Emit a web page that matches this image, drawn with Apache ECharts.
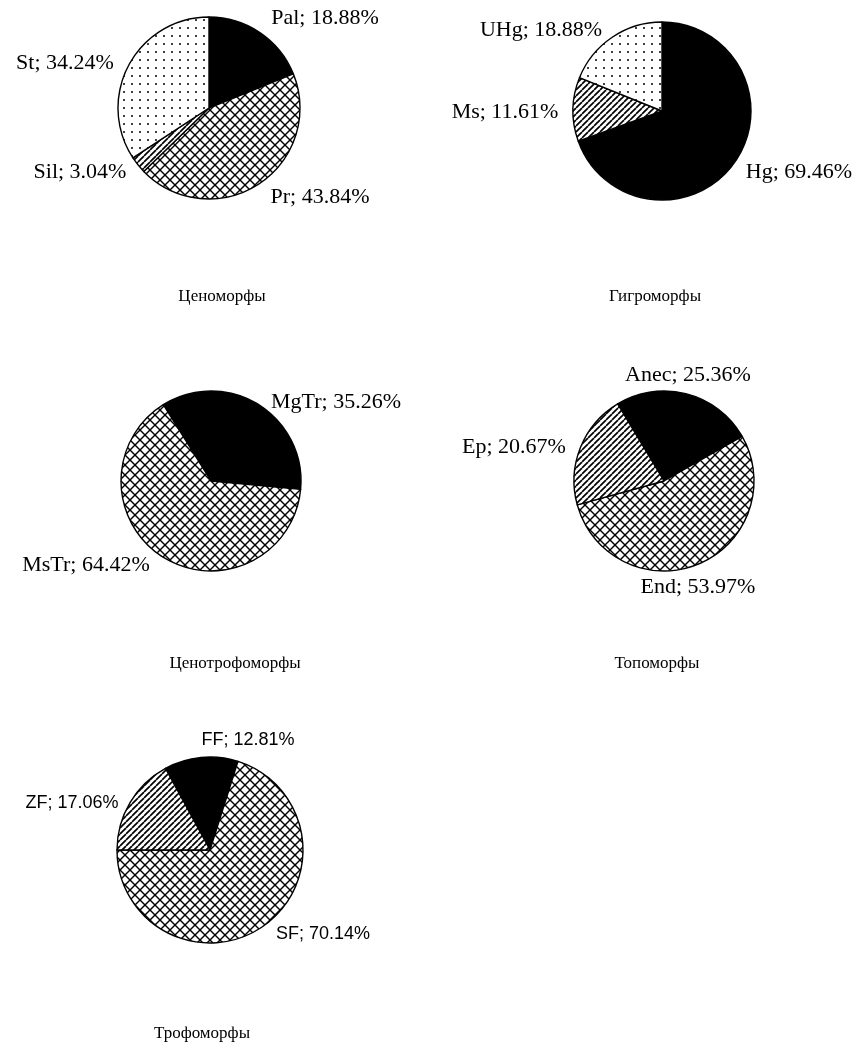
<!DOCTYPE html>
<html><head><meta charset="utf-8">
<script src="https://cdn.jsdelivr.net/npm/echarts@6/dist/echarts.min.js"></script>
<style>html,body{margin:0;padding:0;background:#fff}#c{width:860px;height:1045px}</style>
</head><body><div id="c"></div>
<script>
// ---- data ----
const cenoCats = ['Pal', 'Pr', 'Sil', 'St'];
const cenoVals = [18.88, 43.84, 3.04, 34.24];
const gigroCats = ['Hg', 'Ms', 'UHg'];
const gigroVals = [69.46, 11.61, 18.88];
const cenotrCats = ['MgTr', 'MsTr'];
const cenotrVals = [35.26, 64.42];
const topoCats = ['Anec', 'End', 'Ep'];
const topoVals = [25.36, 53.97, 20.67];
const trofoCats = ['FF', 'SF', 'ZF'];
const trofoVals = [12.81, 70.14, 17.06];
const chartTitles = ['Ценоморфы', 'Гигроморфы', 'Ценотрофоморфы', 'Топоморфы', 'Трофоморфы'];

// ---- styling / layout ----
const fills = [
  ['solid', 'cross', 'hatch', 'dots'],
  ['solid', 'hatch', 'dots'],
  ['solid', 'cross'],
  ['solid', 'cross', 'hatch'],
  ['solid', 'cross', 'hatch']
];
const pieLayout = [
  {center: [209, 108], r: 91, start: 90},
  {center: [662, 111], r: 89, start: 90},
  {center: [211, 481], r: 90, start: 122},
  {center: [664, 481], r: 90, start: 121},
  {center: [210, 850], r: 93, start: 118.6}
];
const labelAnchors = [
  [[325, 18], [320, 197], [80, 172], [65, 63]],
  [[799, 172], [505, 112], [541, 30]],
  [[336, 402], [86, 565]],
  [[688, 375], [698, 587], [514, 447]],
  [[248, 740], [323, 934], [72, 803]]
];
const titlePos = [[217, 293], [650, 293], [230, 660], [652, 660], [197, 1030]];
const labelFonts = [
  ['Liberation Serif', 22], ['Liberation Serif', 22], ['Liberation Serif', 22],
  ['Liberation Serif', 22], ['Liberation Sans', 18]
];

function tile(size, draw) {
  const c = document.createElement('canvas');
  c.width = size; c.height = size;
  const ctx = c.getContext('2d');
  ctx.fillStyle = '#fff'; ctx.fillRect(0, 0, size, size);
  ctx.strokeStyle = '#000'; ctx.fillStyle = '#000';
  draw(ctx, size);
  return c;
}
const patterns = {
  solid: '#000',
  cross: {image: tile(10, (ctx, s) => {
    ctx.lineWidth = 1.4;
    for (let k = -1; k <= 1; k++) {
      ctx.beginPath(); ctx.moveTo(k * s, 0); ctx.lineTo(k * s + s, s); ctx.stroke();
      ctx.beginPath(); ctx.moveTo(k * s + s, 0); ctx.lineTo(k * s, s); ctx.stroke();
    }
  }), repeat: 'repeat'},
  hatch: {image: tile(6, (ctx, s) => {
    ctx.lineWidth = 1.7;
    for (let k = -1; k <= 1; k++) {
      ctx.beginPath(); ctx.moveTo(k * s, s); ctx.lineTo(k * s + s, 0); ctx.stroke();
    }
  }), repeat: 'repeat'},
  dots: {image: tile(8, (ctx, s) => {
    ctx.beginPath(); ctx.arc(4, 4, 1.0, 0, Math.PI * 2); ctx.fill();
  }), repeat: 'repeat'}
};

const sets = [
  [cenoCats, cenoVals], [gigroCats, gigroVals], [cenotrCats, cenotrVals],
  [topoCats, topoVals], [trofoCats, trofoVals]
];

const series = sets.map((s, i) => ({
  type: 'pie',
  center: pieLayout[i].center,
  radius: pieLayout[i].r,
  startAngle: pieLayout[i].start,
  clockwise: true,
  avoidLabelOverlap: false,
  silent: true,
  data: s[0].map((n, j) => ({
    name: n, value: s[1][j],
    itemStyle: {color: patterns[fills[i][j]], borderColor: '#000', borderWidth: 1.4}
  })),
  label: {
    show: true, position: 'outside', color: '#000',
    fontFamily: labelFonts[i][0], fontSize: labelFonts[i][1],
    formatter: p => p.name + '; ' + p.value.toFixed(2) + '%'
  },
  labelLine: {show: false},
  labelLayout: p => ({
    x: labelAnchors[i][p.dataIndex][0],
    y: labelAnchors[i][p.dataIndex][1],
    align: 'center', verticalAlign: 'middle'
  })
}));

const chart = echarts.init(document.getElementById('c'));
chart.setOption({
  animation: false,
  backgroundColor: '#fff',
  title: chartTitles.map((t, i) => ({
    text: t, left: titlePos[i][0], top: titlePos[i][1] - 10, textAlign: 'center',
    textStyle: {fontFamily: 'Liberation Serif', fontSize: 17, fontWeight: 'normal', color: '#000'}
  })),
  series: series
});
</script>
</body></html>
